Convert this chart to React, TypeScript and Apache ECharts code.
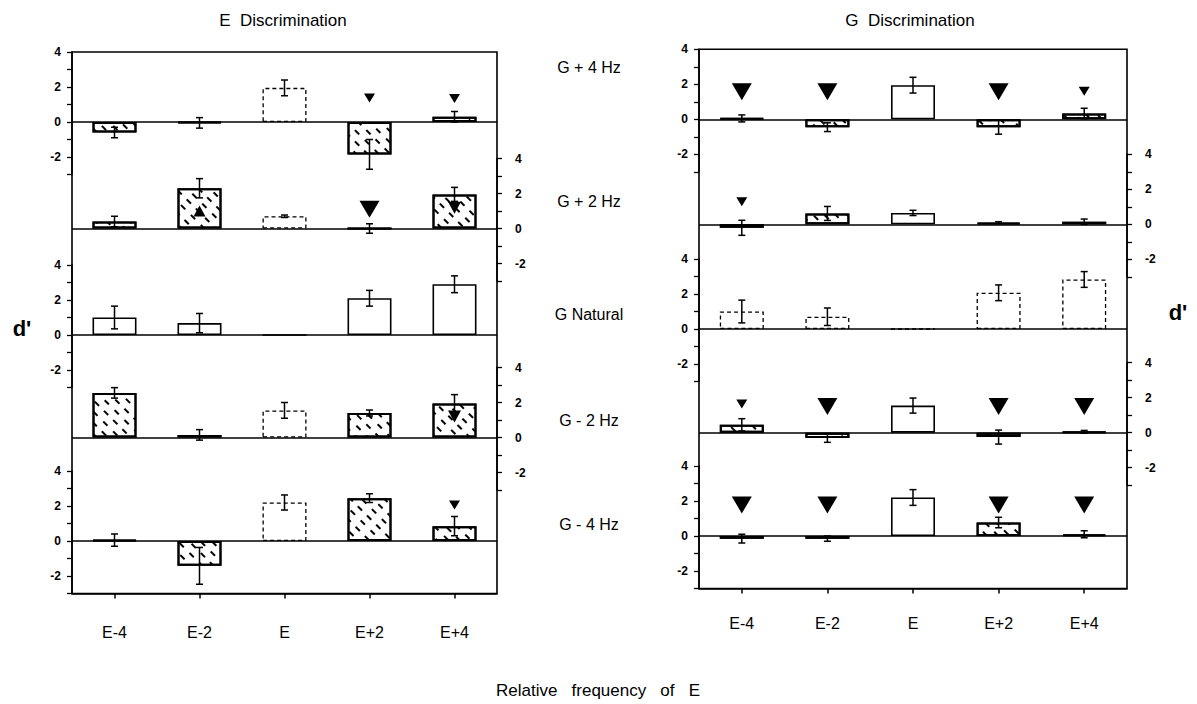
import React, { useEffect, useRef } from "react";
import * as echarts from "echarts";

// ---------------- data ----------------
const categories = ["E-4", "E-2", "E", "E+2", "E+4"];
const conditions = ["G + 4 Hz", "G + 2 Hz", "G Natural", "G - 2 Hz", "G - 4 Hz"];

// E discrimination: mean d' per condition row (G+4, G+2, G Nat, G-2, G-4) and category
const eMeans = [
  [-0.6, -0.05, 1.95, -1.85, 0.3],
  [0.4, 2.3, 0.7, 0, 1.95],
  [1.0, 0.68, 0, 2.1, 2.9],
  [2.55, 0.15, 1.55, 1.4, 1.95],
  [0.05, -1.42, 2.2, 2.45, 0.85],
];
const eErrors = [
  [0.3, 0.3, 0.45, 0.85, 0.3],
  [0.3, 0.55, 0.07, 0.27, 0.4],
  [0.65, 0.55, 0, 0.45, 0.48],
  [0.3, 0.3, 0.45, 0.17, 0.5],
  [0.35, 1.05, 0.43, 0.25, 0.55],
];
// h = hatched, d = dashed outline, s = solid outline
const eStyles = [
  ["h", "h", "d", "h", "h"],
  ["h", "h", "d", "h", "h"],
  ["s", "s", "s", "s", "s"],
  ["h", "h", "d", "h", "h"],
  ["h", "h", "d", "h", "h"],
];
// [row, category, d' position, kind]  L = large down, M = medium down, S = small down, U = up
const eMarkers: [number, number, number, string][] = [
  [0, 3, 1.37, "S"],
  [0, 4, 1.35, "S"],
  [1, 1, 1.0, "U"],
  [1, 3, 1.1, "L"],
  [1, 4, 1.18, "M"],
  [3, 4, 1.2, "M"],
  [4, 4, 2.06, "S"],
];

// G discrimination
const gMeans = [
  [0.05, -0.45, 1.95, -0.45, 0.33],
  [-0.2, 0.62, 0.65, 0.1, 0.15],
  [1.0, 0.7, 0, 2.07, 2.83],
  [0.45, -0.3, 1.55, -0.25, 0.05],
  [-0.15, -0.15, 2.2, 0.77, 0.1],
];
const gErrors = [
  [0.2, 0.25, 0.45, 0.4, 0.3],
  [0.43, 0.4, 0.15, 0.05, 0.15],
  [0.65, 0.5, 0, 0.45, 0.45],
  [0.35, 0.25, 0.43, 0.4, 0.08],
  [0.25, 0.15, 0.45, 0.3, 0.2],
];
const gStyles = [
  ["h", "h", "s", "h", "h"],
  ["h", "h", "s", "h", "h"],
  ["d", "d", "d", "d", "d"],
  ["h", "h", "s", "h", "h"],
  ["h", "h", "s", "h", "h"],
];
const gMarkers: [number, number, number, string][] = [
  [0, 0, 1.57, "L"],
  [0, 1, 1.57, "L"],
  [0, 3, 1.57, "L"],
  [0, 4, 1.6, "S"],
  [1, 0, 1.29, "S"],
  [3, 0, 1.64, "S"],
  [3, 1, 1.5, "L"],
  [3, 3, 1.5, "L"],
  [3, 4, 1.5, "L"],
  [4, 0, 1.77, "L"],
  [4, 1, 1.77, "L"],
  [4, 3, 1.77, "L"],
  [4, 4, 1.77, "L"],
];

// ---------------- layout ----------------
const FONT = "'Liberation Sans', Arial, Helvetica, sans-serif";
const U = 17.5; // px per d' unit
const panels = [
  {
    title: "E  Discrimination",
    titleX: 283,
    means: eMeans,
    errors: eErrors,
    styles: eStyles,
    markers: eMarkers,
    left: 72,
    right: 497,
    zeros: [122, 228.5, 335, 437.5, 541],
    labelMargin: 31,
  },
  {
    title: "G  Discrimination",
    titleX: 910,
    means: gMeans,
    errors: gErrors,
    styles: gStyles,
    markers: gMarkers,
    left: 699,
    right: 1127,
    zeros: [119.3, 224.3, 329, 432.7, 536],
    labelMargin: 27,
  },
];
const rowLabelX = 589;
const rowLabelY = [67, 201, 314, 420, 524];

const hatchDecal = {
  symbol: "rect",
  symbolSize: 1,
  color: "#000",
  backgroundColor: "#fff",
  dashArrayX: [
    [6, 7],
    [0, 6.5, 6, 0.5],
  ],
  dashArrayY: [1.6, 5.5],
  rotation: Math.PI / 4,
};

function barStyle(kind: string) {
  if (kind === "d")
    return { color: "#fff", borderColor: "#000", borderWidth: 1.3, borderType: [4, 3] };
  if (kind === "s") return { color: "#fff", borderColor: "#000", borderWidth: 1.6 };
  return { color: "#fff", borderColor: "#000", borderWidth: 2, decal: hatchDecal };
}

function markerItem(m: [number, number, number, string]) {
  const kind = m[3];
  const size =
    kind === "L" ? [20, 17] : kind === "M" ? [13, 12] : kind === "U" ? [12, 11] : [11, 9];
  return { value: [m[1], m[2]], symbolSize: size, symbolRotate: kind === "U" ? 0 : 180 };
}

function errorRender(params: any, api: any) {
  const x = api.value(0);
  const v = api.value(1);
  const e = api.value(2);
  if (!e) return null;
  const top = api.coord([x, v + e]);
  const bot = api.coord([x, v - e]);
  const w = 3.5;
  const st = { stroke: "#000", lineWidth: 1.5 };
  return {
    type: "group",
    children: [
      { type: "line", shape: { x1: top[0], y1: top[1], x2: bot[0], y2: bot[1] }, style: st },
      { type: "line", shape: { x1: top[0] - w, y1: top[1], x2: top[0] + w, y2: top[1] }, style: st },
      { type: "line", shape: { x1: bot[0] - w, y1: bot[1], x2: bot[0] + w, y2: bot[1] }, style: st },
    ],
  };
}

function buildOption() {
  const grid: any[] = [];
  const xAxis: any[] = [];
  const yAxis: any[] = [];
  const series: any[] = [];
  const graphic: any[] = [];

  panels.forEach((P) => {
    for (let k = 0; k < 5; k++) {
      const gi = grid.length;
      grid.push({ left: P.left, width: P.right - P.left, top: P.zeros[k] - 4 * U, height: 7 * U });
      const last = k === 4;
      xAxis.push({
        gridIndex: gi,
        type: "category",
        data: categories,
        show: last,
        position: "bottom",
        axisLine: { show: true, onZero: false, lineStyle: { color: "#000", width: 1.5 } },
        axisTick: { show: true, alignWithLabel: true, length: 5, lineStyle: { color: "#000", width: 1.5 } },
        axisLabel: { color: "#000", fontSize: 16, fontFamily: FONT, margin: P.labelMargin },
        splitLine: { show: false },
      });
      const side = k % 2 === 0 ? "left" : "right";
      yAxis.push({
        gridIndex: gi,
        type: "value",
        min: -3,
        max: 4,
        interval: 1,
        position: side,
        axisLine: { show: true, lineStyle: { color: "#000", width: 1.5 } },
        axisTick: { show: true, length: 5, lineStyle: { color: "#000", width: 1.3 } },
        splitLine: { show: false },
        axisLabel: {
          formatter: (v: number) => (v % 2 === 0 ? String(v) : ""),
          color: "#000",
          fontSize: 12,
          fontWeight: "bold",
          fontFamily: FONT,
          margin: side === "left" ? 11 : 18,
        },
      });
      series.push({
        type: "bar",
        xAxisIndex: gi,
        yAxisIndex: gi,
        barWidth: 44,
        z: 2,
        data: P.means[k].map((v, i) => ({ value: v, itemStyle: barStyle(P.styles[k][i]) })),
        markLine: {
          symbol: "none",
          silent: true,
          label: { show: false },
          lineStyle: { color: "#000", width: 1.6, type: "solid" },
          data: [{ yAxis: 0 }],
        },
      });
      series.push({
        type: "custom",
        xAxisIndex: gi,
        yAxisIndex: gi,
        z: 4,
        renderItem: errorRender,
        encode: { x: 0, y: 1 },
        data: P.means[k].map((v, i) => [i, v, P.errors[k][i]]),
      });
      const ms = P.markers.filter((m) => m[0] === k).map(markerItem);
      if (ms.length) {
        series.push({
          type: "scatter",
          xAxisIndex: gi,
          yAxisIndex: gi,
          z: 5,
          symbol: "triangle",
          itemStyle: { color: "#000", opacity: 1 },
          data: ms,
        });
      }
    }
    // outer frame
    const oi = grid.length;
    grid.push({
      left: P.left,
      width: P.right - P.left,
      top: P.zeros[0] - 4 * U,
      height: P.zeros[4] + 3 * U - (P.zeros[0] - 4 * U),
      show: true,
      borderColor: "#000",
      borderWidth: 1.6,
      backgroundColor: "rgba(0,0,0,0)",
    });
    xAxis.push({ gridIndex: oi, type: "value", show: false });
    yAxis.push({ gridIndex: oi, type: "value", show: false });

    graphic.push({
      type: "text",
      x: P.titleX,
      y: 20,
      style: { text: P.title, font: `17px ${FONT}`, fill: "#000", textAlign: "center", textVerticalAlign: "middle" },
    });
  });

  conditions.forEach((c, i) => {
    graphic.push({
      type: "text",
      x: rowLabelX,
      y: rowLabelY[i],
      style: { text: c, font: `16px ${FONT}`, fill: "#000", textAlign: "center", textVerticalAlign: "middle" },
    });
  });
  graphic.push({
    type: "text",
    x: 22,
    y: 328,
    style: { text: "d'", font: `bold 22px ${FONT}`, fill: "#000", textAlign: "center", textVerticalAlign: "middle" },
  });
  graphic.push({
    type: "text",
    x: 1178,
    y: 312,
    style: { text: "d'", font: `bold 22px ${FONT}`, fill: "#000", textAlign: "center", textVerticalAlign: "middle" },
  });
  graphic.push({
    type: "text",
    x: 598,
    y: 690,
    style: {
      text: "Relative   frequency   of   E",
      font: `17px ${FONT}`,
      fill: "#000",
      textAlign: "center",
      textVerticalAlign: "middle",
    },
  });

  return {
    animation: false,
    backgroundColor: "#fff",
    grid,
    xAxis,
    yAxis,
    series,
    graphic,
  };
}

export default function App() {
  const ref = useRef<HTMLDivElement>(null);
  useEffect(() => {
    document.body.style.margin = "0";
    if (!ref.current) return;
    const chart = echarts.init(ref.current, undefined, { renderer: "svg" });
    chart.setOption(buildOption() as any);
    return () => chart.dispose();
  }, []);
  return <div ref={ref} style={{ width: 1197, height: 704 }} />;
}
